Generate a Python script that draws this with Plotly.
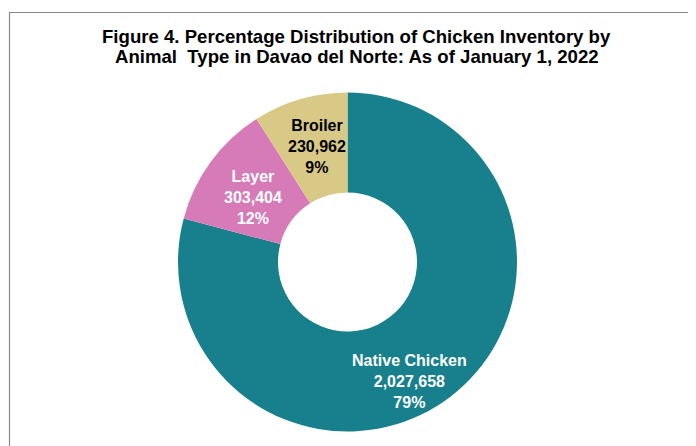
import plotly.graph_objects as go

categories = ["Native Chicken", "Layer", "Broiler"]
values = [2027658, 303404, 230962]
percent_labels = ["79%", "12%", "9%"]
title_lines = [
    "Figure 4. Percentage Distribution of Chicken Inventory by",
    "Animal  Type in Davao del Norte: As of January 1, 2022",
]

colors = ["#18808C", "#D67BB8", "#D9C986"]
text_colors = ["white", "white", "black"]

W, H = 696, 446
FONT = "Liberation Sans, Arial, sans-serif"

def px(x):
    return x / W

def py(y):
    return 1 - y / H

fig = go.Figure(go.Pie(
    labels=categories,
    values=values,
    textinfo="none",
    marker=dict(colors=colors, line=dict(width=0)),
    hole=0.41,
    sort=False,
    direction="clockwise",
    rotation=0,
    showlegend=False,
    domain=dict(x=[px(170), px(509)], y=[py(424), py(84)]),
))

# label positions (pixels in figure) for each slice label
label_pos = [(401, 373.5), (244.7, 189), (309, 138)]
annotations = []
for cat, val, pct, col, (lx, ly) in zip(categories, values, percent_labels, text_colors, label_pos):
    annotations.append(dict(
        x=px(lx), y=py(ly), xref="paper", yref="paper",
        text=f"<b>{cat}<br>{val:,}<br>{pct}</b>",
        showarrow=False, xanchor="center", yanchor="middle",
        font=dict(family=FONT, size=16, color=col),
    ))

for line, ty in zip(title_lines, [29, 49]):
    annotations.append(dict(
        x=px(348.5), y=py(ty), xref="paper", yref="paper",
        text=f"<b>{line}</b>", showarrow=False,
        xanchor="center", yanchor="middle",
        font=dict(family=FONT, size=18.6, color="black"),
    ))

fig.update_layout(
    width=W, height=H,
    margin=dict(l=0, r=0, t=0, b=0),
    paper_bgcolor="white",
    plot_bgcolor="white",
    annotations=annotations,
    shapes=[dict(
        type="rect", xref="paper", yref="paper",
        x0=px(1.5), x1=1.05, y0=-0.05, y1=py(4.5),
        line=dict(color="#8A8A8A", width=1.2),
        fillcolor="rgba(0,0,0,0)",
    )],
)

fig.write_html("out.html")
